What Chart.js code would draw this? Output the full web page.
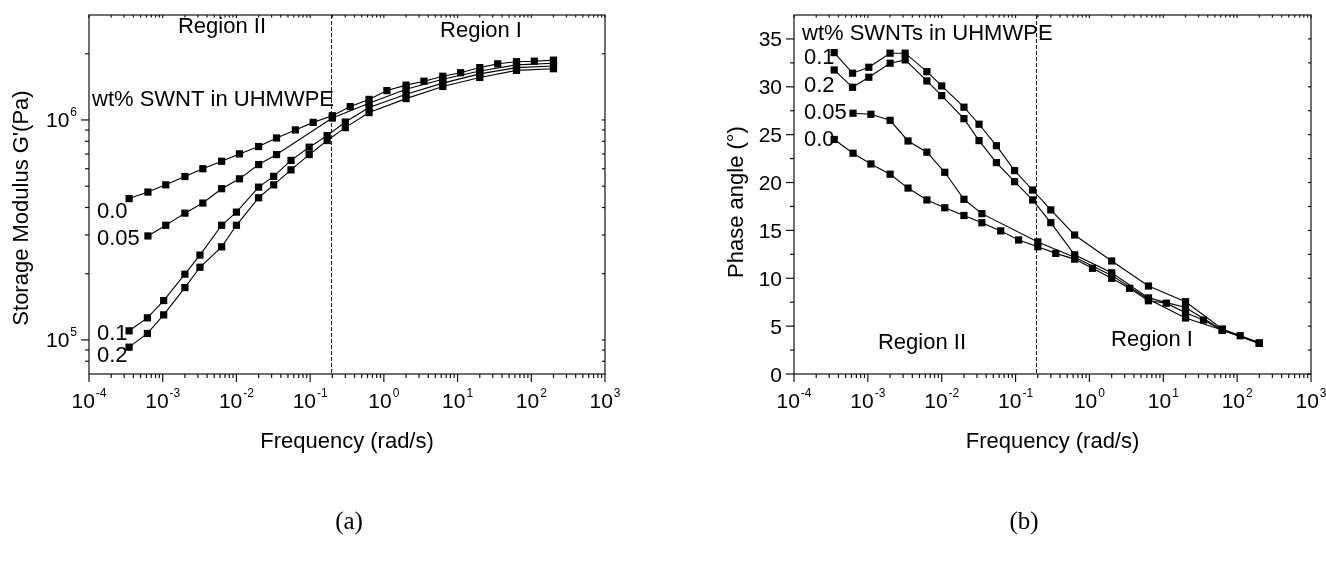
<!DOCTYPE html>
<html>
<head>
<meta charset="utf-8">
<script src="https://cdn.jsdelivr.net/npm/chart.js@4.4.1/dist/chart.umd.min.js"></script>
<style>
  html, body { margin: 0; padding: 0; background: #fff; }
  body { width: 1326px; height: 571px; position: relative; overflow: hidden; }
  canvas { position: absolute; top: 0; }
  #modulus { left: 0; }
  #phase { left: 663px; }
  .panel {
    position: absolute; top: 508px; line-height: 1;
    font-family: "Liberation Serif", "Times New Roman", serif; font-size: 25px; color: #000;
    transform: translateX(-50%);
  }
</style>
</head>
<body>
<canvas id="modulus" width="663" height="571"></canvas>
<canvas id="phase" width="663" height="571"></canvas>
<div class="panel" style="left:349px">(a)</div>
<div class="panel" style="left:1024px">(b)</div>
<script>
// frequency grids in rad/s (the runs were not all taken on the same grid)
const freqFull = [3.5e-4, 6.3e-4, 1.1e-3, 2e-3, 3.5e-3, 6.3e-3, 0.011, 0.02, 0.035, 0.063, 0.11, 0.2,
                  0.35, 0.63, 1.1, 2, 3.5, 6.3, 11, 20, 35, 63, 110, 200];
const freq005 = [6.3e-4, 1.1e-3, 2e-3, 3.5e-3, 6.3e-3, 0.011, 0.02, 0.035, 0.2, 0.63, 2, 6.3, 20, 63, 200];
const freqLoaded = [3.5e-4, 6.2e-4, 1.03e-3, 2e-3, 3.2e-3, 6.3e-3, 0.01, 0.02, 0.032, 0.055, 0.097, 0.17,
                    0.3, 0.63, 2, 6.3, 20, 63, 200];

// storage modulus G' (Pa)
const modulus00 = [4.39e5, 4.70e5, 5.07e5, 5.53e5, 6.0e5, 6.49e5, 7.01e5, 7.57e5, 8.28e5, 9.01e5, 9.75e5, 1.045e6,
                   1.15e6, 1.24e6, 1.36e6, 1.44e6, 1.50e6, 1.58e6, 1.64e6, 1.73e6, 1.80e6, 1.84e6, 1.85e6, 1.87e6];
const modulus005 = [2.97e5, 3.32e5, 3.77e5, 4.19e5, 4.87e5, 5.40e5, 6.27e5, 6.96e5, 1.02e6, 1.19e6, 1.38e6,
                    1.53e6, 1.67e6, 1.78e6, 1.81e6];
const modulus01 = [1.10e5, 1.26e5, 1.51e5, 1.99e5, 2.43e5, 3.32e5, 3.81e5, 4.95e5, 5.54e5, 6.55e5, 7.52e5,
                   8.49e5, 9.78e5, 1.14e6, 1.31e6, 1.47e6, 1.62e6, 1.73e6, 1.76e6];
const modulus02 = [9.27e4, 1.07e5, 1.30e5, 1.73e5, 2.14e5, 2.65e5, 3.32e5, 4.43e5, 5.07e5, 5.93e5, 6.96e5,
                   8.06e5, 9.23e5, 1.08e6, 1.25e6, 1.42e6, 1.56e6, 1.68e6, 1.71e6];

// phase angle (deg)
const phase00 = [24.5, 23.06, 21.94, 20.87, 19.42, 18.18, 17.36, 16.56, 15.8, 14.95, 14.0, 13.3,
                 12.6, 12.0, 11.04, 10.0, 8.95, 7.65, 7.4, 6.4, 5.64, 4.55, 4.0, 3.2];
const phase005 = [27.24, 27.13, 26.5, 24.34, 23.17, 21.07, 18.25, 16.75, 13.8, 12.2, 10.3, 7.8, 5.85, 4.6, 3.2];
const phase01 = [33.57, 31.42, 32.04, 33.51, 33.51, 31.58, 30.09, 27.87, 26.09, 23.85, 21.25, 19.22,
                 17.14, 14.52, 11.81, 9.19, 7.55, 4.7, 3.25];
const phase02 = [31.76, 29.95, 31.0, 32.46, 32.81, 30.61, 29.08, 26.67, 24.38, 22.08, 20.09, 18.18,
                 15.81, 12.45, 10.57, 7.95, 6.95, 4.6, 3.2];

// axes
const freqDecades = [-4, -3, -2, -1, 0, 1, 2, 3];
const modulusDecades = [5, 6];
const phaseTicks = [0, 5, 10, 15, 20, 25, 30, 35];
const regionBoundary = 0.19;

const FONT = '"Liberation Sans", Arial, Helvetica, sans-serif';

function pairs(xs, ys) {
  return ys.map((y, i) => ({x: xs[i], y: y}));
}

function series(label, xs, ys) {
  return {
    label: label,
    data: pairs(xs, ys),
    borderColor: '#000',
    backgroundColor: '#000',
    borderWidth: 1.1,
    pointStyle: 'rect',
    pointRadius: 5.1,
    pointBorderWidth: 0,
    pointBackgroundColor: '#000',
    tension: 0,
    showLine: true
  };
}

// minor positions between the decades of a log axis
function logMinors(lo, hi) {
  const out = [];
  for (let e = lo; e < hi; e++) {
    for (let m = 2; m <= 9; m++) out.push(m * Math.pow(10, e));
  }
  return out;
}

// "10" with a raised exponent; anchor is 'center' or 'right'
function powerLabel(ctx, exp, x, baseline, anchor) {
  ctx.font = '21px ' + FONT;
  const wb = ctx.measureText('10').width;
  ctx.font = '12px ' + FONT;
  const we = ctx.measureText(String(exp)).width;
  const total = wb + 1 + we;
  const start = anchor === 'right' ? x - total : x - total / 2;
  ctx.textAlign = 'left';
  ctx.font = '21px ' + FONT;
  ctx.fillText('10', start, baseline);
  ctx.font = '12px ' + FONT;
  ctx.fillText(String(exp), start + wb + 1, baseline - 11);
}

function text(ctx, str, x, y, align, size) {
  ctx.font = (size || 22) + 'px ' + FONT;
  ctx.textAlign = align;
  ctx.fillText(str, x, y);
}

const decor = {
  id: 'decor',
  beforeDatasetsDraw(chart, args, opts) {
    const {ctx, chartArea: a, scales: {x}} = chart;
    const px = Math.round(x.getPixelForValue(opts.boundary)) + 0.5;
    ctx.save();
    ctx.strokeStyle = '#222';
    ctx.lineWidth = 1.1;
    ctx.setLineDash([4, 2]);
    ctx.beginPath();
    ctx.moveTo(px, a.top);
    ctx.lineTo(px, a.bottom);
    ctx.stroke();
    ctx.restore();
  },
  afterDraw(chart, args, opts) {
    const {ctx, chartArea: a, scales: {x, y}} = chart;
    ctx.save();
    ctx.fillStyle = '#000';
    ctx.strokeStyle = '#111';
    ctx.lineWidth = 1.2;
    ctx.textBaseline = 'alphabetic';

    ctx.strokeRect(a.left, a.top, a.right - a.left, a.bottom - a.top);

    const tick = (x1, y1, x2, y2) => {
      ctx.beginPath();
      ctx.moveTo(x1, y1);
      ctx.lineTo(x2, y2);
      ctx.stroke();
    };

    // frequency axis: ticks below, short mirrored ticks along the top
    freqDecades.forEach(e => {
      const px = x.getPixelForValue(Math.pow(10, e));
      tick(px, a.bottom, px, a.bottom + 8);
      tick(px, a.top, px, a.top + 3);
      powerLabel(ctx, e, px, a.bottom + 34, 'center');
    });
    logMinors(freqDecades[0], freqDecades[freqDecades.length - 1]).forEach(v => {
      const px = x.getPixelForValue(v);
      tick(px, a.bottom, px, a.bottom + 4);
      tick(px, a.top, px, a.top + 2.5);
    });

    // value axis
    opts.yMajor.forEach(v => {
      const py = y.getPixelForValue(v);
      tick(a.left - 8, py, a.left, py);
      tick(a.right - 3, py, a.right, py);
      if (opts.logY) {
        powerLabel(ctx, Math.round(Math.log10(v)), a.left - 12, py + 7, 'right');
      } else {
        text(ctx, String(v), a.left - 12, py + 7.5, 'right', 21);
      }
    });
    opts.yMinor.forEach(v => {
      const py = y.getPixelForValue(v);
      if (py < a.top + 1 || py > a.bottom - 1) return;
      tick(a.left - 4, py, a.left, py);
      tick(a.right - 3, py, a.right, py);
    });

    // axis titles
    text(ctx, 'Frequency (rad/s)', (a.left + a.right) / 2, 448, 'center');
    ctx.save();
    ctx.translate(opts.yTitleX, opts.yTitleY);
    ctx.rotate(-Math.PI / 2);
    text(ctx, opts.yTitle, 0, 0, 'center');
    ctx.restore();

    // annotations
    opts.notes.forEach(n => text(ctx, n.t, n.x, n.y, n.align));
    ctx.restore();
  }
};

const modulusMinors = [8e4, 9e4].concat(logMinors(5, 6), [2e6]);
const phaseMinors = phaseTicks.map(v => v + 2.5);

function makeChart(id, datasets, yScale, pad, decorOpts) {
  return new Chart(document.getElementById(id), {
    type: 'line',
    data: {datasets: datasets},
    options: {
      responsive: false,
      animation: false,
      devicePixelRatio: 1,
      layout: {padding: pad},
      plugins: {legend: {display: false}, tooltip: {enabled: false}, decor: decorOpts},
      scales: {
        x: {type: 'logarithmic', min: 1e-4, max: 1e3, display: false},
        y: Object.assign({display: false}, yScale)
      }
    },
    plugins: [decor]
  });
}

makeChart('modulus', [
  series('0.0', freqFull, modulus00),
  series('0.05', freq005, modulus005),
  series('0.1', freqLoaded, modulus01),
  series('0.2', freqLoaded, modulus02)
], {type: 'logarithmic', min: 7e4, max: 3e6},
{left: 89, right: 58, top: 15, bottom: 197},
{
  boundary: regionBoundary,
  logY: true,
  yMajor: modulusDecades.map(e => Math.pow(10, e)),
  yMinor: modulusMinors,
  yTitle: "Storage Modulus G'(Pa)",
  yTitleX: 28, yTitleY: 208,
  notes: [
    {t: 'Region II', x: 222, y: 33, align: 'center'},
    {t: 'Region I', x: 481, y: 37, align: 'center'},
    {t: 'wt% SWNT in UHMWPE', x: 92, y: 106, align: 'left'},
    {t: '0.0', x: 97, y: 218, align: 'left'},
    {t: '0.05', x: 97, y: 245, align: 'left'},
    {t: '0.1', x: 97, y: 340, align: 'left'},
    {t: '0.2', x: 97, y: 362, align: 'left'}
  ]
});

makeChart('phase', [
  series('0.0', freqFull, phase00),
  series('0.05', freq005, phase005),
  series('0.1', freqLoaded, phase01),
  series('0.2', freqLoaded, phase02)
], {type: 'linear', min: 0, max: 37.5},
{left: 131, right: 15, top: 15, bottom: 197},
{
  boundary: regionBoundary,
  logY: false,
  yMajor: phaseTicks,
  yMinor: phaseMinors,
  yTitle: 'Phase angle (°)',
  yTitleX: 80, yTitleY: 202,
  notes: [
    {t: 'wt% SWNTs in UHMWPE', x: 139, y: 40, align: 'left'},
    {t: '0.1', x: 141, y: 64, align: 'left'},
    {t: '0.2', x: 141, y: 92, align: 'left'},
    {t: '0.05', x: 141, y: 119, align: 'left'},
    {t: '0.0', x: 141, y: 146, align: 'left'},
    {t: 'Region II', x: 259, y: 349, align: 'center'},
    {t: 'Region I', x: 489, y: 346, align: 'center'}
  ]
});
</script>
</body>
</html>
